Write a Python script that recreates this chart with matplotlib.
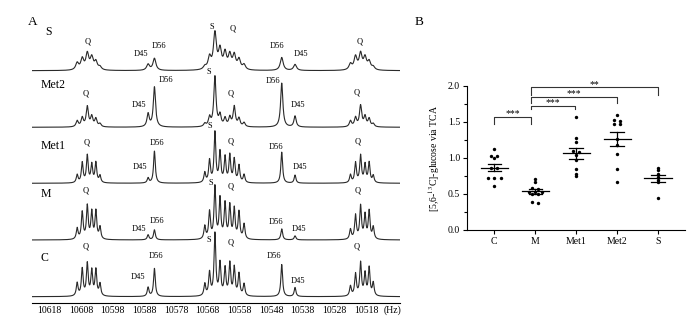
import numpy as np
import matplotlib
matplotlib.use("Agg")
import matplotlib.pyplot as plt

plt.rcParams['font.family'] = ['Liberation Serif', 'DejaVu Serif']
plt.rcParams['mathtext.fontset'] = 'stix'

# ---------------- panel A : 13C multiplets (peak lists)
TRACES = ["C", "M", "Met1", "Met2", "S"]

QL_HZ = [10609.2, 10607.6, 10606.0, 10604.6, 10603.3, 10602.0]
CEN_HZ = [10568.9, 10567.4, 10565.7, 10564.1, 10562.5, 10561.0, 10559.6, 10558.1, 10556.5]
D_HZ = [10586.8, 10584.8, 10544.6, 10540.4]      # D45, D56, D56, D45
QR_HZ = [10522.9, 10521.3, 10519.7, 10518.3, 10517.0, 10515.7]

QL_H = {"C": [13, 27, 32, 25, 26, 12], "M": [11, 27, 33, 27, 28, 12],
        "Met1": [8, 20, 27, 18, 20, 7], "Met2": [6, 9, 20, 10, 8, 3],
        "S": [7, 11, 16, 12, 8, 3]}
CEN_H = {"C": [12, 23, 62, 32, 27, 32, 28, 22, 12],
         "M": [13, 27, 52, 40, 35, 33, 30, 27, 15],
         "Met1": [10, 22, 50, 30, 25, 27, 23, 17, 8],
         "Met2": [3, 9, 50, 11, 8, 9, 20, 8, 4],
         "S": [3, 12, 36, 19, 16, 14, 14, 10, 5]}
D_H = {"C": [9, 28, 32, 9], "M": [5, 10, 11, 4], "Met1": [5, 32, 31, 8],
       "Met2": [13, 40, 44, 11], "S": [6, 12, 13, 6]}
QR_H = {"C": [10, 22, 33, 22, 28, 13], "M": [10, 24, 33, 24, 28, 12],
        "Met1": [8, 20, 27, 18, 20, 7], "Met2": [6, 9, 21, 10, 8, 3],
        "S": [6, 13, 16, 12, 8, 3]}
HWHM = {"C": 0.33, "M": 0.33, "Met1": 0.33, "Met2": 0.42, "S": 0.55}

# peak labels: text, Hz, height above the trace baseline
PEAK_LABELS = {
    "S": [("Q", 10605.9, 29), ("D45", 10589.1, 16.7), ("D56", 10583.5, 24.7),
          ("S", 10566.8, 44), ("Q", 10560.2, 42.4), ("D56", 10546.2, 25),
          ("D45", 10538.6, 16.7), ("Q", 10520.1, 29)],
    "Met2": [("Q", 10606.4, 34), ("D45", 10589.8, 22.3), ("D56", 10581.2, 47.3),
             ("S", 10567.5, 55), ("Q", 10560.7, 34), ("D56", 10547.3, 46.6),
             ("D45", 10539.4, 22.3), ("Q", 10520.9, 34.6)],
    "Met1": [("Q", 10606.2, 40.6), ("D56", 10583.9, 40.6), ("S", 10567.3, 57.3),
             ("Q", 10560.6, 41.6), ("D56", 10546.4, 36.6), ("Q", 10520.7, 41.6),
             ("D45", 10589.4, 16), ("D45", 10538.8, 16)],
    "M": [("Q", 10606.4, 49), ("S", 10567.0, 56.7), ("Q", 10560.6, 53.3),
          ("Q", 10520.6, 49), ("D56", 10583.9, 19), ("D45", 10589.6, 10.7),
          ("D56", 10546.5, 18.3), ("D45", 10539.1, 11)],
    "C": [("Q", 10606.4, 50), ("D56", 10584.3, 40.7), ("D45", 10589.9, 19.4),
          ("S", 10567.5, 56.7), ("Q", 10560.6, 54), ("D56", 10547.0, 40.7),
          ("D45", 10539.4, 15.7), ("Q", 10520.9, 50)],
}
HZ_TICKS = [10618, 10608, 10598, 10588, 10578, 10568, 10558, 10548, 10538, 10528, 10518]

# ---------------- panel B : [5,6-13C]-glucose via TCA
GROUPS = ["C", "M", "Met1", "Met2", "S"]
C_VALS = [1.12, 1.03, 1.03, 1.00, 0.86, 0.86, 0.72, 0.72, 0.72, 0.61]
M_VALS = [0.71, 0.66, 0.59, 0.57, 0.53, 0.53, 0.53, 0.50, 0.50, 0.39, 0.38]
MET1_VALS = [1.57, 1.28, 1.22, 1.10, 1.09, 1.04, 0.97, 0.85, 0.78, 0.75]
MET2_VALS = [1.60, 1.53, 1.52, 1.47, 1.47, 1.26, 1.18, 1.06, 0.85, 0.67]
S_VALS = [0.86, 0.83, 0.78, 0.73, 0.70, 0.67, 0.45]
# significance brackets: (left, right, height, drop, stars)
BRACKETS = [(0, 0.9, 1.565, 0.095, "***"), (0.9, 1.97, 1.726, 0.045, "***"),
            (0.9, 3.0, 1.85, 0.08, "***"), (0.9, 4.0, 1.98, 0.10, "**")]

fig = plt.figure(figsize=(6.95, 3.21), dpi=100)

# layout of panel A (trace baselines / label spots, in px above the axis line)
BASE = {"C": 6.3, "M": 63, "Met1": 119.7, "Met2": 175.7, "S": 232.3}
NAME_POS = {"C": (10620.7, 39), "M": (10620.7, 45.7), "Met1": (10620.7, 37.6),
            "Met2": (10620.7, 42.3), "S": (10619.4, 39)}

axA = fig.add_axes([0.0456, 0.0561, 0.5299, 0.9128])
hz = np.linspace(10623.56, 10507.26, 6000)
for name in TRACES:
    w = HWHM[name]
    y = np.zeros_like(hz)
    for pos, hts in ((QL_HZ, QL_H), (CEN_HZ, CEN_H), (D_HZ, D_H), (QR_HZ, QR_H)):
        for p, h in zip(pos, hts[name]):
            y += h * w ** 2 / ((hz - p) ** 2 + w ** 2)
    axA.plot(hz, y + BASE[name], color='#2a2a2a', lw=0.8)
    for txt, x, h in PEAK_LABELS[name]:
        axA.text(x, BASE[name] + h, txt, fontsize=6, ha='center', va='center')
    nx, ny = NAME_POS[name]
    axA.text(nx, BASE[name] + ny, name, fontsize=8.5, ha='left', va='center')

axA.set_xlim(10623.56, 10507.26)
axA.set_ylim(0, 293)
for s in ('top', 'left', 'right'):
    axA.spines[s].set_visible(False)
axA.spines['bottom'].set_linewidth(0.8)
axA.set_yticks([])
axA.set_xticks(HZ_TICKS)
axA.tick_params(axis='x', length=0, pad=2.5, labelsize=7)
axA.text(10512.5, -7, "(Hz)", fontsize=7, ha='left', va='center', clip_on=False)


def swarm(vals, step=0.16, tol=0.025):
    vals = np.asarray(vals)
    order = np.argsort(vals)[::-1]
    sv = vals[order]
    xs = np.zeros(len(vals))
    i = 0
    while i < len(order):
        j = i
        while j + 1 < len(order) and sv[i] - sv[j + 1] < tol:
            j += 1
        n = j - i + 1
        xs[order[i:j + 1]] = (np.arange(n) - (n - 1) / 2) * step
        i = j + 1
    return xs


axB = fig.add_axes([0.672, 0.2835, 0.3137, 0.4486])
for i, vals in enumerate([C_VALS, M_VALS, MET1_VALS, MET2_VALS, S_VALS]):
    v = np.array(vals)
    axB.scatter(i + swarm(v), v, s=6, color='black', zorder=3, linewidths=0)
    m = v.mean()
    se = v.std(ddof=1) / np.sqrt(len(v))
    axB.plot([i - 0.33, i + 0.33], [m, m], color='black', lw=0.9)
    axB.plot([i, i], [m - se, m + se], color='black', lw=0.9)
    for e in (m - se, m + se):
        axB.plot([i - 0.16, i + 0.16], [e, e], color='black', lw=0.9)

for x0, x1, yb, drop, stars in BRACKETS:
    axB.plot([x0, x0, x1, x1], [yb - drop, yb, yb, yb - drop], color='#333333',
             lw=0.8, clip_on=False)
    axB.text((x0 + x1) / 2, yb + 0.045, stars, fontsize=7, ha='center', va='center',
             clip_on=False)

axB.set_xlim(-0.66, 4.66)
axB.set_ylim(0, 2.0)
axB.set_xticks(range(len(GROUPS)))
axB.set_xticklabels(GROUPS)
axB.set_yticks([0.0, 0.5, 1.0, 1.5, 2.0])
axB.set_yticks([0.25, 0.75, 1.25, 1.75], minor=True)
axB.set_yticklabels(["0.0", "0.5", "1.0", "1.5", "2.0"])
for s in ('top', 'right'):
    axB.spines[s].set_visible(False)
for s in ('left', 'bottom'):
    axB.spines[s].set_linewidth(0.8)
axB.tick_params(axis='both', which='major', length=3, width=0.8, labelsize=7, pad=2)
axB.tick_params(axis='y', which='minor', length=2, width=0.8)
axB.set_ylabel("[5,6-$^{13}$C]-glucose via TCA", fontsize=7, labelpad=4)

fig.text(32.7 / 695, 1 - 21.7 / 321, "A", fontsize=9.5, ha='center', va='center')
fig.text(419 / 695, 1 - 22 / 321, "B", fontsize=9.5, ha='center', va='center')

fig.savefig("out.png", dpi=100)
